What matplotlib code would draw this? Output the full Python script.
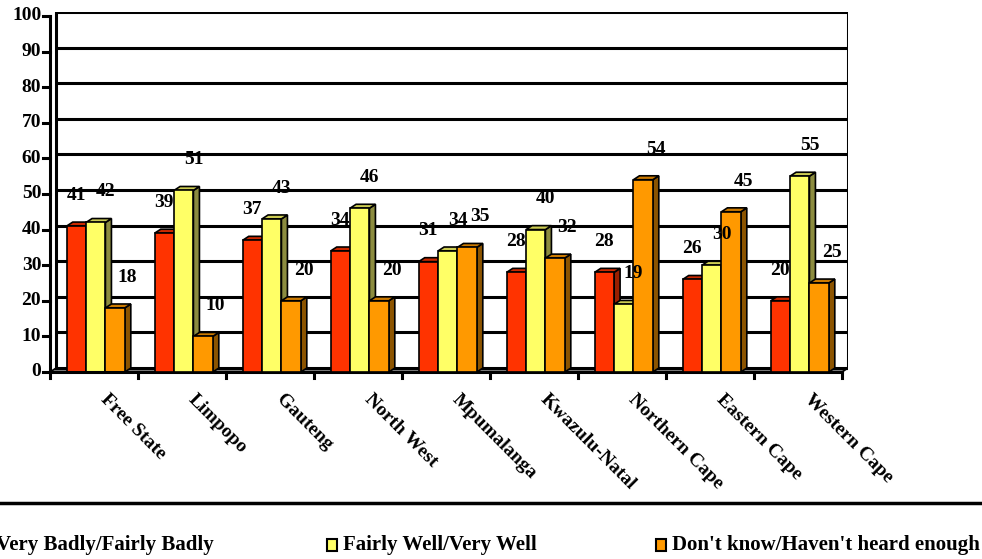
import matplotlib
matplotlib.use("Agg")
import matplotlib.pyplot as plt
from matplotlib.patches import Polygon, Rectangle
from matplotlib.lines import Line2D

# survey results by province (percent)
provinces = ["Free State", "Limpopo", "Gauteng", "North West", "Mpumalanga",
             "Kwazulu-Natal", "Northern Cape", "Eastern Cape", "Western Cape"]
badly = [41, 39, 37, 34, 31, 28, 28, 26, 20]
well = [42, 51, 43, 46, 34, 40, 19, 30, 55]
dont_know = [18, 10, 20, 20, 35, 32, 54, 45, 25]
series_names = ["Very Badly/Fairly Badly", "Fairly Well/Very Well",
                "Don't know/Haven't heard enough"]
y_ticks = list(range(0, 101, 10))

front = ["#FF3300", "#FFFF66", "#FF9900"]
top_c = ["#CC2900", "#CCCC52", "#CC7A00"]
side_c = ["#991F00", "#8C8C3F", "#8C5400"]

plt.rcParams["font.family"] = "Liberation Serif"
plt.rcParams["font.weight"] = "bold"

W, H = 982, 559
fig = plt.figure(figsize=(W / 100, H / 100), dpi=100)
# axes: left at x=50px, right at 848px, bottom y=372px, top y=12px
ax = fig.add_axes([50 / W, 1 - 372 / H, 798 / W, 360 / H])

n = len(provinces)
ddx = 6 / 88.0      # 3D depth in category units
ddy = 1.1           # 3D depth in value units
ymax = 100
ax.set_xlim(0, n + ddx)
ax.set_ylim(0, ymax + ddy)
ax.axis("off")

lw = 2.2
# floor
ax.add_patch(Polygon([(0, 0), (n, 0), (n + ddx, ddy), (ddx, ddy)], closed=True,
                     facecolor="#808080", edgecolor="black", lw=1.2, zorder=1))
# back wall gridlines
for t in y_ticks:
    ax.plot([ddx, n + ddx], [t + ddy, t + ddy], color="black", lw=lw, zorder=1,
            solid_capstyle="butt")
ax.plot([ddx, ddx], [ddy, ymax + ddy], color="black", lw=lw, zorder=1)
ax.plot([n + ddx, n + ddx], [ddy, ymax + ddy], color="black", lw=lw, zorder=1)
# front y axis + ticks
ax.plot([0, 0], [0, ymax], color="black", lw=lw, zorder=5, clip_on=False)
for t in y_ticks:
    ax.plot([-0.08, 0], [t, t], color="black", lw=lw, zorder=5, clip_on=False)
    ax.text(-0.1, t, str(t), ha="right", va="center", fontsize=14,
            fontweight="bold")
# front x axis + category ticks
ax.plot([0, n], [0, 0], color="black", lw=lw, zorder=5, clip_on=False)
for k in range(n + 1):
    ax.plot([k, k], [0, -1.8], color="black", lw=lw, zorder=5, clip_on=False)
for k, name in enumerate(provinces):
    ax.text(k + 0.6, -7.0, name, rotation=-45, rotation_mode="anchor",
            ha="left", va="center", fontsize=14, fontweight="bold")

w = 0.22
start = 0.19
label_dx = [0.0, 0.11, 0.14]
label_dy = 8.6
z = 2
for k in range(n):
    for s, vals in enumerate([badly, well, dont_know]):
        v = vals[k]
        x0 = k + start + s * w
        x1 = x0 + w
        # side face
        ax.add_patch(Polygon([(x1, 0), (x1 + ddx, ddy), (x1 + ddx, v + ddy), (x1, v)],
                             closed=True, facecolor=side_c[s], edgecolor="black",
                             lw=1.2, zorder=z))
        # top face
        ax.add_patch(Polygon([(x0, v), (x1, v), (x1 + ddx, v + ddy), (x0 + ddx, v + ddy)],
                             closed=True, facecolor=top_c[s], edgecolor="black",
                             lw=1.2, zorder=z))
        ax.add_patch(Rectangle((x0, 0), w, v, facecolor=front[s], edgecolor="black",
                               lw=1.2, zorder=z + 0.5))
        z += 1
        ax.text((x0 + x1) / 2 + label_dx[s], v + label_dy, str(v), ha="center",
                va="center", fontsize=14, fontweight="bold", zorder=100)

# legend frame top border and entries (first entry is cut off at the left edge)
fig.add_artist(Line2D([0, 1], [1 - 503 / H, 1 - 503 / H], color="black", lw=2.5))
leg_x = [-4 / W, 343 / W, 672 / W]
leg_y = 1 - 545 / H
for s, name in enumerate(series_names):
    fig.add_artist(Rectangle((leg_x[s] - 16 / W, leg_y - 5.5 / H), 10 / W, 12 / H,
                             facecolor=front[s], edgecolor="black", lw=1.5,
                             transform=fig.transFigure))
    fig.text(leg_x[s], leg_y, name, ha="left", va="center", fontsize=15,
             fontweight="bold")

fig.savefig("out.png", dpi=100)
